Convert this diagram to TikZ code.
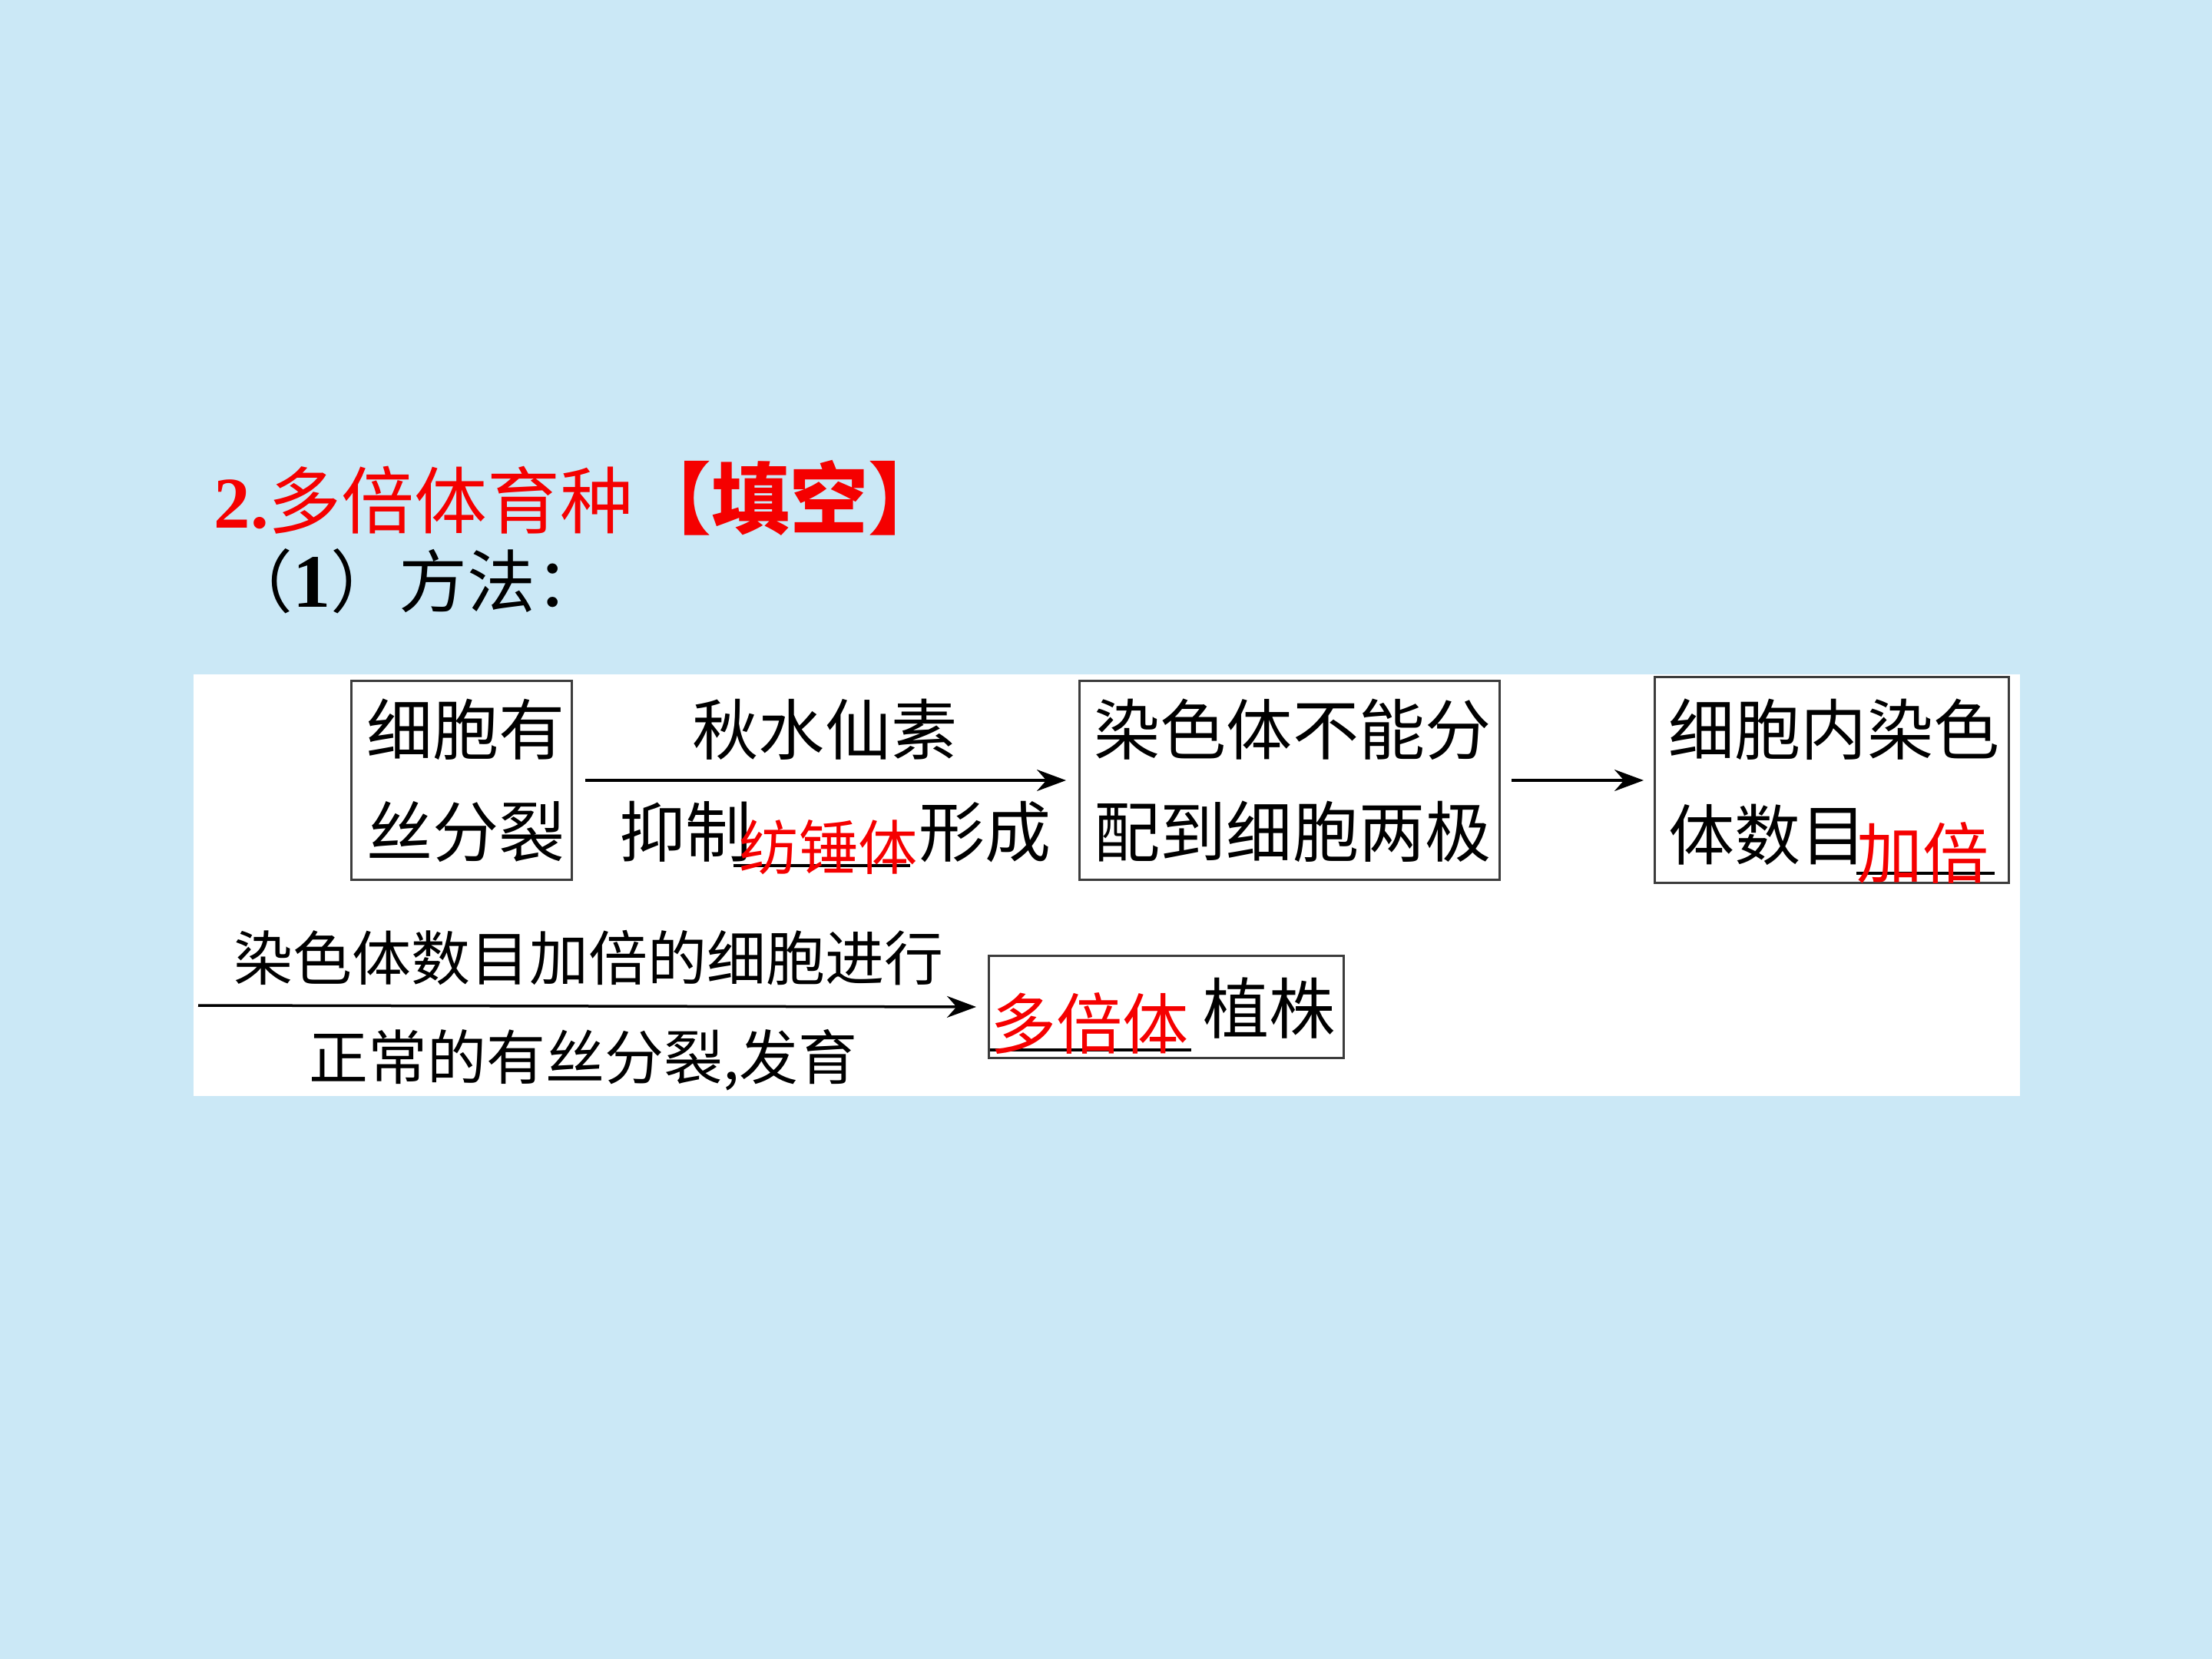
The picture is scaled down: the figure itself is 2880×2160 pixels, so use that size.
\documentclass[tikz,border=0pt]{standalone}
\usepackage{fontspec}
\setmainfont{Liberation Serif}
\newfontfamily\cjk{Noto Sans CJK SC}
\usetikzlibrary{arrows.meta}
\definecolor{bgblue}{RGB}{203,232,246}
\definecolor{tred}{RGB}{245,0,0}
\definecolor{boxline}{RGB}{60,60,60}
\begin{document}
\begin{tikzpicture}[x=0.1mm,y=-0.1mm,
  box/.style={draw=boxline,line width=0.3mm,inner sep=0,anchor=north west},
  txt/.style={inner sep=0,anchor=west,font=\cjk\fontsize{24.5pt}{26pt}\selectfont},
  lbl/.style={inner sep=0,anchor=west,font=\cjk\fontsize{21.9pt}{24pt}\selectfont},
  redtxt/.style={txt,text=tred},
  conn/.style={line width=0.35mm,-{Stealth[length=3.8mm,width=2.8mm]}},
  blank/.style={line width=0.35mm}
]
\useasboundingbox[fill=bgblue] (0,0) rectangle (2880,2160);
\fill[white] (252,878) rectangle (2630,1427);

% headings
\node[inner sep=0,anchor=west,text=tred,font=\fontsize{27pt}{29pt}\selectfont] (title) at (278,648)
  {\bfseries 2.\mdseries\cjk 多倍体育种\fontsize{29pt}{31pt}\selectfont\bfseries【填空】};
\node[inner sep=0,anchor=west,font=\fontsize{25.3pt}{27pt}\selectfont] (method) at (292,757)
  {\cjk（\rmfamily\bfseries\fontsize{28pt}{30pt}\selectfont 1\mdseries\cjk\fontsize{25.3pt}{27pt}\selectfont）方法：};

% boxes
\node[box,minimum width=28.7mm,minimum height=25.9mm] (b1) at (456,885) {};
\node[box,minimum width=54.7mm,minimum height=25.9mm] (b2) at (1404,885) {};
\node[box,minimum width=46.1mm,minimum height=26.8mm] (b3) at (2153,880) {};
\node[box,minimum width=46.2mm,minimum height=13.3mm] (b4) at (1286,1243) {};

% box texts
\node[txt] (b1l1) at (477,950) {细胞有};
\node[txt] (b1l2) at (477,1083) {丝分裂};
\node[txt] (b2l1) at (1424,950) {染色体不能分};
\node[txt] (b2l2) at (1424,1083) {配到细胞两极};
\node[txt] (b3l1) at (2172,950) {细胞内染色};
\node[txt] (b3l2) at (2172,1087) {体数目};
\draw[blank] (2417,1137) -- (2597,1137);
\node[redtxt] (b3ans) at (2417,1110) {加倍};
\draw[blank] (1289,1367) -- (1551,1367);
\node[redtxt] (b4ans) at (1289,1333) {多倍体};
\node[txt] (b4t) at (1566,1313) {植株};

% connectors
\draw[conn,shorten <=1.6mm,shorten >=1.6mm] (b1.east) -- (b2.west);
\draw[conn,shorten <=1.4mm,shorten >=1.3mm] (b2.east |- b1.east) -- (b3.west |- b1.east);
\coordinate (a3s) at (258,1309);
\draw[conn,shorten >=1.5mm] (a3s) -- (b4.west);

% arrow labels
\node[txt,anchor=center] (a1top) at (1074,950) {秋水仙素};
\node[txt] (a1b1) at (806,1083) {抑制};
\draw[blank] (955,1127) -- (1185,1127);
\node[redtxt,font=\cjk\fontsize{22pt}{24pt}\selectfont] (a1ans) at (962,1103) {纺锤体};
\node[txt] (a1b2) at (1196,1083) {形成};
\node[lbl] (a3top) at (304,1247) {染色体数目加倍的细胞进行};
\node[lbl] (a3bot) at (402,1380) {正常的有丝分裂,发育};
\end{tikzpicture}
\end{document}
